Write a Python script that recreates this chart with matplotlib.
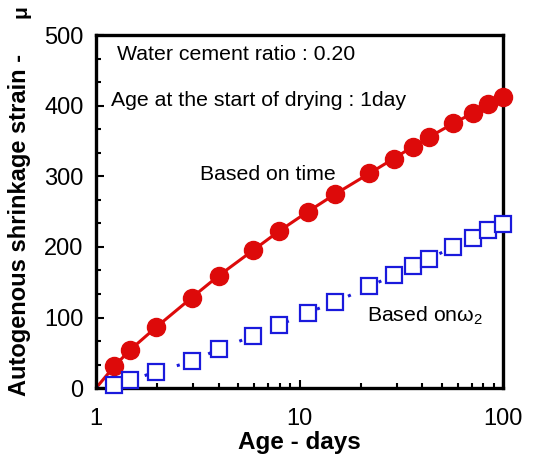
import matplotlib
matplotlib.use("Agg")
import matplotlib.pyplot as plt
import numpy as np
from matplotlib.ticker import FixedLocator, FixedFormatter, MultipleLocator, NullFormatter

plt.rcParams['font.family'] = ['Liberation Sans', 'DejaVu Sans']
plt.rcParams['mathtext.fontset'] = 'custom'
plt.rcParams['mathtext.rm'] = 'Liberation Sans'
plt.rcParams['mathtext.it'] = 'Liberation Sans'

# age (days) and autogenous shrinkage (x10^-6)
age_time = [1.23, 1.47, 1.97, 2.95, 4.0, 5.9, 7.9, 11.0, 15.0, 22.0, 29.0, 36.0, 43.0, 57.0, 71.5, 84.7, 99.3]
strain_time = [31, 54, 86, 128, 159, 195, 222, 250, 275, 304, 325, 342, 355, 375, 390, 403, 412]

age_w2 = [1.23, 1.47, 1.97, 2.95, 4.0, 5.9, 7.9, 11.0, 15.0, 22.0, 29.0, 36.0, 43.0, 57.0, 71.5, 84.7, 99.3]
strain_w2 = [5, 11, 23, 38, 55, 74, 89, 107, 122, 144, 160, 173, 183, 200, 213, 224, 233]

W, H = 533, 461
fig = plt.figure(figsize=(W / 100, H / 100), dpi=100)
ax = fig.add_axes([0.180, 0.158, 0.764, 0.766])

red = '#dd0a0a'
blue = '#1a1adc'

ax.plot([1] + age_time, [0] + strain_time, color=red, lw=2.2, zorder=2)
ax.plot(age_time, strain_time, 'o', color=red, ms=13, zorder=3, clip_on=False)

ax.plot([1] + age_w2, [0] + strain_w2, color=blue, lw=2.2, ls=(0, (1.0, 4.5)), zorder=2)
ax.plot(age_w2, strain_w2, 's', mfc='white', mec=blue, mew=1.6, ms=12, zorder=3, clip_on=False)

ax.set_xscale('log')
ax.set_xlim(1, 100)
ax.set_ylim(0, 500)
ax.xaxis.set_major_locator(FixedLocator([1, 10, 100]))
ax.xaxis.set_major_formatter(FixedFormatter(['1', '10', '100']))
ax.xaxis.set_minor_formatter(NullFormatter())
ax.yaxis.set_major_locator(MultipleLocator(100))
ax.yaxis.set_minor_locator(MultipleLocator(100 / 3))

ax.tick_params(axis='both', which='both', direction='in', top=False, right=False,
               labelsize=17, width=1.5)
ax.tick_params(which='major', length=6)
ax.tick_params(which='minor', length=3.5)
ax.tick_params(axis='x', which='major', pad=14)
ax.tick_params(axis='y', which='major', pad=9)
for s in ax.spines.values():
    s.set_linewidth(2.4)

ax.set_xlabel('Age - days', fontsize=17.5, fontweight='bold', labelpad=1)

# y label with the unit set apart at the top
fig.text(20 / W, 1 - 225 / H, 'Autogenous shrinkage strain -', rotation=90,
         fontsize=17, fontweight='bold', ha='center', va='center')
fig.text(21 / W, 1 - 12 / H, '\u03bc', rotation=90, fontsize=15, fontweight='bold',
         ha='center', va='center')

ax.text(1.27, 472, 'Water cement ratio : 0.20', fontsize=15.3, va='center')
ax.text(1.18, 408, 'Age at the start of drying : 1day', fontsize=15.3, va='center')
ax.text(3.24, 302, 'Based on time', fontsize=15.3, va='center')
ax.text(21.4, 103, r'Based on$\omega_2$', fontsize=15.3, va='center')

fig.savefig('out.png', dpi=100)
